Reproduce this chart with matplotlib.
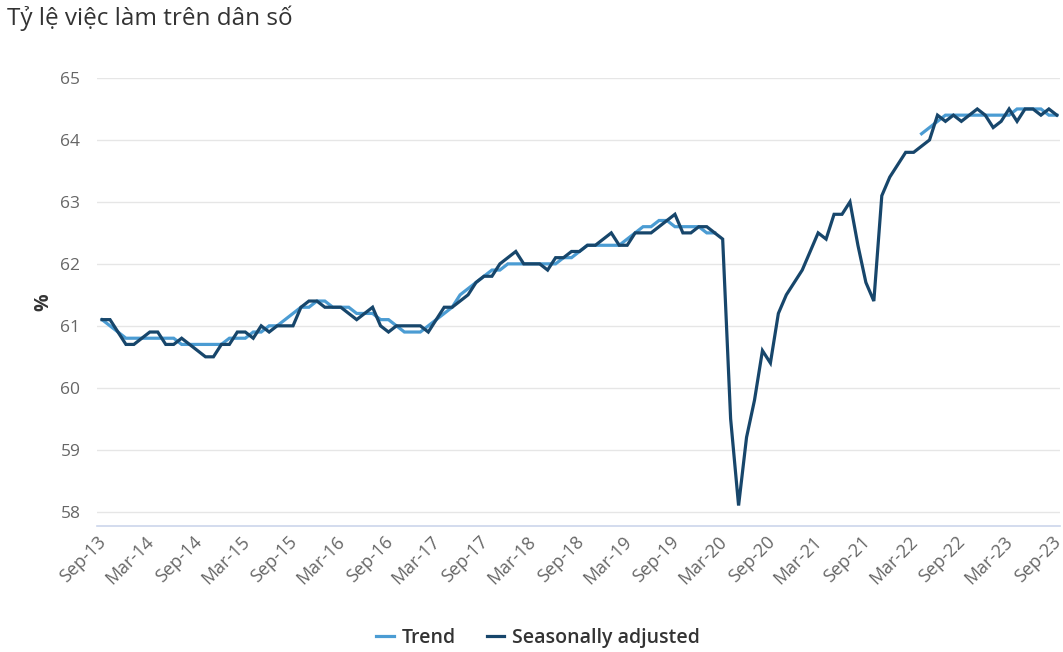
import numpy as np
import pandas as pd
import matplotlib
matplotlib.use("Agg")
import matplotlib.pyplot as plt
import matplotlib.transforms as mtransforms

plt.rcParams['font.family'] = ['Open Sans', 'DejaVu Sans']

# monthly, Sep-2013 .. Sep-2023
months = pd.date_range("2013-09-01", "2023-09-01", freq="MS")

seasonally_adjusted = [
    61.1, 61.1, 60.9, 60.7, 60.7, 60.8, 60.9, 60.9, 60.7, 60.7, 60.8, 60.7,  # Sep-13 .. Aug-14
    60.6, 60.5, 60.5, 60.7, 60.7, 60.9, 60.9, 60.8, 61.0, 60.9, 61.0, 61.0,  # Sep-14 .. Aug-15
    61.0, 61.3, 61.4, 61.4, 61.3, 61.3, 61.3, 61.2, 61.1, 61.2, 61.3, 61.0,  # Sep-15 .. Aug-16
    60.9, 61.0, 61.0, 61.0, 61.0, 60.9, 61.1, 61.3, 61.3, 61.4, 61.5, 61.7,  # Sep-16 .. Aug-17
    61.8, 61.8, 62.0, 62.1, 62.2, 62.0, 62.0, 62.0, 61.9, 62.1, 62.1, 62.2,  # Sep-17 .. Aug-18
    62.2, 62.3, 62.3, 62.4, 62.5, 62.3, 62.3, 62.5, 62.5, 62.5, 62.6, 62.7,  # Sep-18 .. Aug-19
    62.8, 62.5, 62.5, 62.6, 62.6, 62.5, 62.4, 59.5, 58.1, 59.2, 59.8, 60.6,  # Sep-19 .. Aug-20
    60.4, 61.2, 61.5, 61.7, 61.9, 62.2, 62.5, 62.4, 62.8, 62.8, 63.0, 62.3,  # Sep-20 .. Aug-21
    61.7, 61.4, 63.1, 63.4, 63.6, 63.8, 63.8, 63.9, 64.0, 64.4, 64.3, 64.4,  # Sep-21 .. Aug-22
    64.3, 64.4, 64.5, 64.4, 64.2, 64.3, 64.5, 64.3, 64.5, 64.5, 64.4, 64.5,  # Sep-22 .. Aug-23
    64.4,                                                                    # Sep-23
]

nan = np.nan
trend = [
    61.1, 61.0, 60.9, 60.8, 60.8, 60.8, 60.8, 60.8, 60.8, 60.8, 60.7, 60.7,
    60.7, 60.7, 60.7, 60.7, 60.8, 60.8, 60.8, 60.9, 60.9, 61.0, 61.0, 61.1,
    61.2, 61.3, 61.3, 61.4, 61.4, 61.3, 61.3, 61.3, 61.2, 61.2, 61.2, 61.1,
    61.1, 61.0, 60.9, 60.9, 60.9, 61.0, 61.1, 61.2, 61.3, 61.5, 61.6, 61.7,
    61.8, 61.9, 61.9, 62.0, 62.0, 62.0, 62.0, 62.0, 62.0, 62.0, 62.1, 62.1,
    62.2, 62.3, 62.3, 62.3, 62.3, 62.3, 62.4, 62.5, 62.6, 62.6, 62.7, 62.7,
    62.6, 62.6, 62.6, 62.6, 62.5, 62.5, nan, nan, nan, nan, nan, nan,
    nan, nan, nan, nan, nan, nan, nan, nan, nan, nan, nan, nan,
    nan, nan, nan, nan, nan, nan, nan, 64.1, 64.2, 64.3, 64.4, 64.4,
    64.4, 64.4, 64.4, 64.4, 64.4, 64.4, 64.4, 64.5, 64.5, 64.5, 64.5, 64.4,
    64.4,
]

tick_labels = [m.strftime("%b-%y") for m in months[::6]]

trend_color = '#4b9cd3'
sa_color = '#17466b'

fig = plt.figure(figsize=(10.63, 6.52), dpi=100)
ax = fig.add_axes([0.0913, 0.1933, 0.9059, 0.6871])

x = np.arange(len(months))
ax.plot(x, trend, color=trend_color, lw=2.3, label='Trend', solid_joinstyle='miter')
ax.plot(x, seasonally_adjusted, color=sa_color, lw=2.3, label='Seasonally adjusted',
        solid_joinstyle='miter')

ax.set_xlim(-0.63, 120.4)
ax.set_ylim(57.77, 65.0)
ax.set_yticks(range(58, 66))
ax.set_xticks(x[::6])
ax.set_xticklabels(tick_labels, rotation=45, ha='right', va='top',
                   rotation_mode='anchor', color='#666666', fontsize=13)
ax.tick_params(axis='y', length=0, pad=12, labelcolor='#666666', labelsize=12.5)
ax.tick_params(axis='x', length=0, pad=5)

# nudge the rotated labels a little left so they end just before the tick
shift = mtransforms.ScaledTranslation(-5 / 100, 0, fig.dpi_scale_trans)
for lbl in ax.get_xticklabels():
    lbl.set_transform(lbl.get_transform() + shift)

ax.grid(axis='y', color='#e6e6e6', lw=1)
ax.set_axisbelow(True)
for s in ['top', 'right', 'left']:
    ax.spines[s].set_visible(False)
ax.spines['bottom'].set_color('#ccd6eb')
ax.spines['bottom'].set_linewidth(1.2)

ax.set_ylabel('%', fontsize=14, fontweight='bold', color='#333333', labelpad=5)

fig.text(0.007, 0.972, 'Tỷ lệ việc làm trên dân số', fontsize=17.5, color='#333333',
         ha='left', va='center')

fig.legend(loc='center', bbox_to_anchor=(0.506, 0.022), ncol=2, frameon=False,
           handlelength=0.9, handletextpad=0.4, columnspacing=1.6,
           labelcolor='#333333', prop={'size': 14, 'weight': 'semibold'})

fig.savefig('out.png', dpi=100)
